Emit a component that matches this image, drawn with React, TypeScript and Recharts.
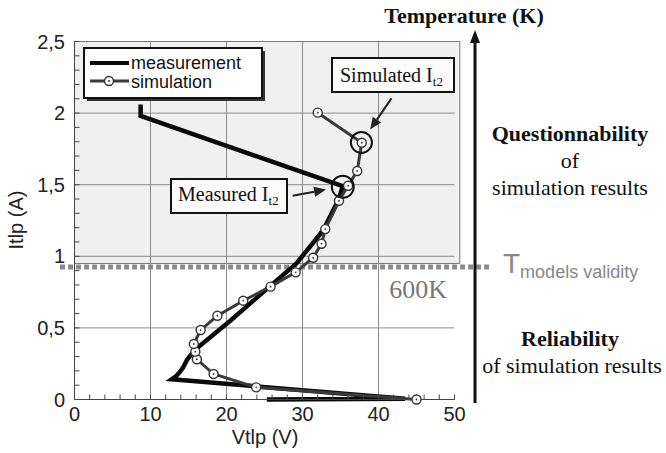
import React from "react";
import { LineChart, Line, XAxis, YAxis, ReferenceLine, ReferenceArea, ReferenceDot } from "recharts";

// measurement (thick black)
const measV = [25.3, 43.5, 12.8, 13.3, 13.9, 14.3, 14.8, 15.2, 16.05, 20.5, 25.7, 29.2, 32.7, 34.7, 35.3, 8.7, 8.7];
const measI = [0, 0.005, 0.141, 0.159, 0.194, 0.225, 0.276, 0.304, 0.356, 0.55, 0.79, 0.95, 1.18, 1.39, 1.49, 1.98, 2.06];

// simulation (grey line with open circles)
const simV = [45.0, 23.9, 18.3, 16.1, 15.9, 15.7, 16.6, 18.8, 22.2, 25.8, 29.1, 31.4, 32.5, 33.0, 34.8, 36.0, 37.2, 37.8, 32.0];
const simI = [0, 0.085, 0.178, 0.281, 0.334, 0.388, 0.485, 0.585, 0.69, 0.788, 0.888, 0.99, 1.088, 1.19, 1.388, 1.493, 1.596, 1.793, 2.003];

const xTicks = [0, 2, 4, 6, 8, 10, 12, 14, 16, 18, 20, 22, 24, 26, 28, 30, 32, 34, 36, 38, 40, 42, 44, 46, 48, 50];
const yTicks = [0, 0.1, 0.2, 0.3, 0.4, 0.5, 0.6, 0.7, 0.8, 0.9, 1, 1.1, 1.2, 1.3, 1.4, 1.5, 1.6, 1.7, 1.8, 1.9, 2, 2.1, 2.2, 2.3, 2.4, 2.5];
const xLabels = [0, 10, 20, 30, 40, 50];
const yLabels = [0, 0.5, 1, 1.5, 2, 2.5];
const xGrid = [10, 20, 30, 40];
const yGrid = [0.5, 1, 1.5, 2];

const validityI = 0.925;
const measIt2 = { v: 35.3, i: 1.485 };
const simIt2 = { v: 37.75, i: 1.795 };

const measData = measV.map((v, k) => ({ v, i: measI[k] }));
const simData = simV.map((v, k) => ({ v, i: simI[k] }));

const SANS = "'Liberation Sans', Arial, sans-serif";
const SERIF = "'Liberation Serif', 'Times New Roman', serif";

const fmtX = (v: number) => (xLabels.includes(v) ? String(v) : "");
const fmtY = (v: number) => (yLabels.some((l) => Math.abs(l - v) < 1e-6) ? String(v).replace(".", ",") : "");

const SimDot = (p: any) => {
  const { cx, cy } = p;
  if (cx == null || cy == null) return null;
  return (
    <g>
      <circle cx={cx} cy={cy} r={4.5} fill="#fff" stroke="#333" strokeWidth={1.4} />
      <circle cx={cx} cy={cy} r={0.9} fill="#333" />
    </g>
  );
};

const Arrow = (p: any) => {
  const { x1, y1, x2, y2 } = p;
  const a = Math.atan2(y2 - y1, x2 - x1);
  const len = 12;
  const w = 5;
  const bx = x2 - len * Math.cos(a);
  const by = y2 - len * Math.sin(a);
  const nx = -Math.sin(a) * w;
  const ny = Math.cos(a) * w;
  return (
    <g>
      <line x1={x1} y1={y1} x2={bx} y2={by} stroke="#222" strokeWidth={2} />
      <polygon points={`${x2},${y2} ${bx + nx},${by + ny} ${bx - nx},${by - ny}`} fill="#222" />
    </g>
  );
};

export default function App() {
  return (
    <div style={{ position: "absolute", left: 0, top: 0, width: 666, height: 453, background: "#fff" }}>
      <LineChart
        width={666}
        height={453}
        margin={{ top: 41.5, right: 211.5, left: 0, bottom: 0 }}
        style={{ fontFamily: SANS }}
      >
        <XAxis
          dataKey="v"
          type="number"
          domain={[0, 50]}
          ticks={xTicks}
          interval={0}
          tickFormatter={fmtX}
          height={53.5}
          tickSize={-5}
          tickMargin={12}
          stroke="#444"
          tick={{ fill: "#222", fontSize: 20 }}
        />
        <XAxis xAxisId="top" orientation="top" mirror type="number" domain={[0, 50]} ticks={xTicks} interval={0} height={0} tickSize={5} tick={false} stroke="#444" />
        <YAxis
          dataKey="i"
          type="number"
          domain={[0, 2.5]}
          ticks={yTicks}
          interval={0}
          tickFormatter={fmtY}
          width={74.5}
          tickSize={-5}
          tickMargin={14.5}
          stroke="#444"
          tick={{ fill: "#222", fontSize: 20 }}
        />
        <YAxis yAxisId="right" orientation="right" mirror type="number" domain={[0, 2.5]} ticks={yTicks} interval={0} width={0} tickSize={5} tick={false} stroke="#444" />

        <ReferenceArea x1={0} x2={50.7} y1={0.95} y2={2.5} fill="#f0f0f0" fillOpacity={1} stroke="#777" strokeWidth={1} ifOverflow="visible" />
        {xGrid.map((g) => (
          <ReferenceLine key={"x" + g} x={g} stroke="#8c8c8c" strokeWidth={1} />
        ))}
        {yGrid.map((g) => (
          <ReferenceLine key={"y" + g} y={g} stroke="#8c8c8c" strokeWidth={1} />
        ))}
        <ReferenceLine
          segment={[{ x: -1.9, y: validityI }, { x: 54.6, y: validityI }]}
          stroke="#8a8a8a"
          strokeWidth={5}
          strokeDasharray="5 3"
          ifOverflow="visible"
        />

        <Line data={measData} dataKey="i" type="linear" stroke="#0a0a0a" strokeWidth={4.5} dot={false} isAnimationActive={false} name="measurement" />
        <Line data={simData} dataKey="i" type="linear" stroke="#3a3a3a" strokeWidth={3} dot={<SimDot />} isAnimationActive={false} name="simulation" />

        <ReferenceDot x={measIt2.v} y={measIt2.i} r={11} fill="none" stroke="#111" strokeWidth={2} />
        <ReferenceDot x={simIt2.v} y={simIt2.i} r={10.5} fill="none" stroke="#111" strokeWidth={2} />
        <ReferenceLine segment={[{ x: 41.7, y: 2.103 }, { x: 38.9, y: 1.885 }]} shape={(p: any) => <Arrow {...p} />} ifOverflow="visible" />
        <ReferenceLine segment={[{ x: 28.7, y: 1.423 }, { x: 33.1, y: 1.466 }]} shape={(p: any) => <Arrow {...p} />} ifOverflow="visible" />
      </LineChart>

      <svg width={666} height={453} style={{ position: "absolute", left: 0, top: 0, pointerEvents: "none" }}>
        {/* legend */}
        <rect x={87} y={51} width={178} height={50} fill="#333" />
        <rect x={84} y={48} width={178} height={50} fill="#fff" stroke="#111" strokeWidth={2} />
        <line x1={90} y1={63} x2={129} y2={63} stroke="#0a0a0a" strokeWidth={4} />
        <text x={131} y={69} fontFamily={SANS} fontSize={18} fill="#111">measurement</text>
        <line x1={90} y1={81} x2={129} y2={81} stroke="#3a3a3a" strokeWidth={3} />
        <circle cx={109} cy={81} r={4.5} fill="#fff" stroke="#333" strokeWidth={1.4} />
        <circle cx={109} cy={81} r={0.9} fill="#333" />
        <text x={131} y={88} fontFamily={SANS} fontSize={18} fill="#111">simulation</text>

        {/* annotation boxes */}
        <rect x={332} y={58} width={122} height={34} fill="#fbfbfb" stroke="#111" strokeWidth={2} />
        <text x={340} y={82} fontFamily={SERIF} fontSize={20} fill="#111">
          Simulated I<tspan fontSize={13} dy={4}>t2</tspan>
        </text>
        <rect x={171} y={179} width={116} height={34} fill="#fbfbfb" stroke="#111" strokeWidth={2} />
        <text x={178} y={201} fontFamily={SERIF} fontSize={20} fill="#111">
          Measured I<tspan fontSize={13} dy={4}>t2</tspan>
        </text>

        {/* axis titles */}
        <text x={265} y={444} textAnchor="middle" fontFamily={SANS} fontSize={20} fill="#222">Vtlp (V)</text>
        <text x={23} y={220} textAnchor="middle" fontFamily={SANS} fontSize={20} fill="#222" transform="rotate(-90 23 220)">Itlp (A)</text>

        <text x={447} y={298} textAnchor="end" fontFamily={SERIF} fontSize={26} fill="#777">600K</text>
        <text x={503} y={273} fontFamily={SANS} fontSize={28} fill="#888">
          T<tspan fontSize={18} dy={5}>models validity</tspan>
        </text>

        {/* temperature arrow */}
        <line x1={475} y1={403} x2={475} y2={40} stroke="#111" strokeWidth={3} />
        <polygon points="475,30 470,43 480,43" fill="#111" />
        <text x={464} y={23} textAnchor="middle" fontFamily={SERIF} fontWeight="bold" fontSize={22} fill="#111">Temperature (K)</text>

        <text x={570} y={141} textAnchor="middle" fontFamily={SERIF} fontWeight="bold" fontSize={22} fill="#111">Questionnability</text>
        <text x={570} y={168} textAnchor="middle" fontFamily={SERIF} fontSize={22} fill="#111">of</text>
        <text x={570} y={195} textAnchor="middle" fontFamily={SERIF} fontSize={22} fill="#111">simulation results</text>
        <text x={570} y={346} textAnchor="middle" fontFamily={SERIF} fontWeight="bold" fontSize={22} fill="#111">Reliability</text>
        <text x={572} y={373} textAnchor="middle" fontFamily={SERIF} fontSize={22} fill="#111">of simulation results</text>
      </svg>
    </div>
  );
}
